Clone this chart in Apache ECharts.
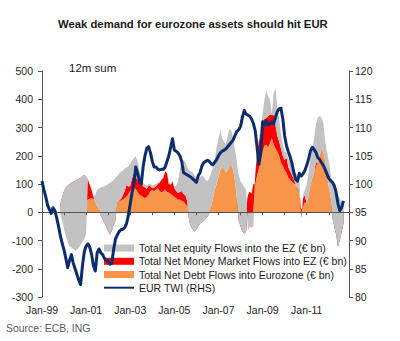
<!DOCTYPE html>
<html>
<head>
<meta charset="utf-8">
<script src="https://cdn.jsdelivr.net/npm/echarts@6/dist/echarts.min.js"></script>
<style>
  html, body { margin: 0; padding: 0; background: #fff; }
  #chart { width: 400px; height: 341px; }
</style>
</head>
<body>
<div id="chart"></div>
<script>
// Monthly categories Jan-99 .. Dec-12
const monthNames = ['Jan','Feb','Mar','Apr','May','Jun','Jul','Aug','Sep','Oct','Nov','Dec'];
const categories = [];
for (let y = 1999; y <= 2012; y++) {
  for (let m = 0; m < 12; m++) {
    categories.push(monthNames[m] + '-' + String(y % 100).padStart(2, '0'));
  }
}

// 12m sums of net flows into the euro zone, EUR bn, first value Nov-99
const flowsStart = 'Nov-99';
const debtFlows = [
  10, 25, 30, 30, 30, 30, 30, 30, 30, 30,
  30, 35, 35, 40, 40, 45, 48, 50, 48, 35,
  22, 10, 5, 5, 5, 5, 5, 5, 5, 5,
  5, 38, 40, 42, 45, 50, 56, 65, 75, 85,
  85, 82, 72, 62, 58, 55, 50, 55, 62, 75,
  79, 75, 80, 85, 75, 70, 75, 80, 72, 70,
  65, 60, 55, 50, 44, 45, 40, 38, 30, 20,
  5, 5, 5, 5, 5, 5, 5, 5, 5, 5,
  5, 5, 20, 50, 80, 100, 125, 150, 160, 155,
  140, 150, 165, 170, 150, 110, 50, 5, 5, 5,
  5, 5, 60, 73, 65, 100, 97, 130, 156, 185,
  215, 235, 239, 230, 245, 263, 240, 227, 215, 200,
  175, 165, 150, 140, 122, 115, 108, 102, 97, 80,
  68, 10, 20, 35, 30, 60, 97, 120, 140, 160,
  175, 200, 225, 215, 185, 133, 90, 55, 5, 5,
  5, 5, 5, 5, 5
];
const moneyMarketFlows = [
  20, 30, 45, 58, 65, 70, 75, 78, 82, 85,
  88, 87, 93, 92, 85, 70, 49, 28, 7, 0,
  0, 0, -17, -30, -43, -57, -73, -85, -70, -50,
  -33, 0, 2, 6, 15, 25, 41, 25, 20, 35,
  55, 43, 43, 46, 42, 37, 38, 27, 33, 17,
  6, 13, 12, 15, 30, 45, 47, 64, 68, 30,
  32, 49, 30, 25, 24, 27, 35, 27, 30, 20,
  -35, -55, -65, -73, -65, -55, -45, -40, -35, -30,
  -20, -10, 0, 0, 0, 0, 0, 0, 0, 0,
  0, 0, 0, 0, 0, 0, 0, -35, -55, -73,
  -80, -75, -60, -73, -65, -100, 36, 85, 94, 100,
  107, 95, 95, 110, 100, 82, 105, 83, 55, 51,
  50, 35, 35, 55, 38, 30, 25, 13, 0, 5,
  2, -30, 30, 25, 0, 0, 0, 0, 0, 15,
  0, 0, 0, 0, 0, 0, 0, 0, -25, -55,
  -85, -127, -105, -75, -45
];
const equityFlows = [
  -40, -85, -135, -173, -200, -220, -230, -238, -249, -247,
  -243, -237, -233, -227, -200, 0, 0, 0, 0, 27,
  58, 75, 100, 115, 130, 148, 168, 184, 173, 160,
  150, 90, 96, 96, 88, 80, 61, 72, 77, 62,
  52, 73, 65, 37, 20, 13, 10, 13, 5, 8,
  10, 10, 8, 5, 3, 3, 3, 2, 2, 5,
  3, 3, 5, 20, 42, 78, 105, 120, 115, 120,
  180, 195, 200, 198, 185, 170, 165, 165, 155, 140,
  125, 125, 120, 110, 110, 130, 135, 140, 100, 95,
  100, 120, 130, 120, 110, 110, 130, 160, 160, 168,
  165, 150, -65, -50, -55, -50, 7, 15, 10, 15,
  28, 70, 96, 70, 55, 5, 75, 130, 100, 79,
  55, 40, 30, 15, 30, 30, 27, 35, 43, 45,
  50, 0, 10, 20, 67, 80, 95, 100, 120, 135,
  160, 140, 110, 101, 70, 82, 90, 85, 120, 135,
  150, 184, 150, 110, 75
];

// EUR trade-weighted index, monthly from Jan-99
const eurTwi = [
  100.5, 99, 97.8, 96.3, 95.5, 94.8, 95.8, 95.3, 94, 92.5,
  90.8, 89.5, 88.3, 86.8, 85.2, 86.5, 87.5, 86, 85, 84,
  83, 82.2, 85.5, 88, 89, 89.4, 88.8, 87.5, 85.5, 84.6,
  87.8, 88.5, 87.8, 87.5, 86.8, 86.5, 86.3, 85.8, 86, 88.5,
  90.3, 91, 91.6, 91.9, 92, 92.3, 93, 94.5, 96.5, 98.5,
  100, 103, 102, 100.5, 100, 103, 105, 106.3, 106.6, 105.5,
  104, 103, 103, 102.6, 102.5, 102.6, 102.6, 103, 104, 105,
  106.5, 108, 106, 105.8, 105.5, 105, 104, 102, 101.8, 101.6,
  101.4, 101.2, 100.9, 100.6, 100.3, 101.5, 102, 103.2, 103.8, 104,
  104.2, 104, 103.6, 103.4, 103.9, 104.3, 105, 105.5, 105.8, 106,
  106.2, 106.6, 107, 107.4, 107.8, 108.6, 109.3, 109.6, 110.2, 111.8,
  113, 112.4, 112.2, 112, 111.5, 110.7, 109.4, 106.5, 103.5, 105.5,
  111, 110.4, 111.2, 110.5, 110.6, 111, 110.6, 111.8, 112.8, 113.3,
  113.4, 111.5, 108.5, 106.8, 105.7, 104.8, 103.6, 102, 100.8, 100.5,
  101.9, 101.4, 101.8, 102.4, 103.3, 104.4, 105.8, 106.5, 106.1, 105.6,
  104.7, 104.4, 103.8, 103.3, 102.6, 101.8, 101, 100.6, 100.3, 99.7,
  98.5, 96.5, 95.3, 95.8, 97
];

const leftAxisTicks = { min: -300, max: 500, interval: 100 };
const rightAxisTicks = { min: 80, max: 120, interval: 5 };

const names = {
  equity: 'Total Net equity Flows into the EZ (\u20ac bn)',
  mm: 'Total Net Money Market Flows into EZ (\u20ac bn)',
  debt: 'Total Net Debt Flows into Eurozone (\u20ac bn)',
  twi: 'EUR TWI (RHS)'
};

const colors = { gray: '#c2c2c2', red: '#ff0000', orange: '#f7964a', navy: '#0b2d6d', axis: '#555555', text: '#262626' };
const FONT = '"Liberation Sans", Arial, sans-serif';

// place a series that starts at a given month onto the full category range
function alignToCategories(values, startLabel) {
  const i0 = categories.indexOf(startLabel);
  return categories.map((_, i) => (i >= i0 && i - i0 < values.length) ? values[i - i0] : null);
}

// stacked areas: each band is drawn between the running totals, later bands on top
function areaSeries(name, values, color) {
  return {
    name: name,
    type: 'line',
    stack: 'flows',
    stackStrategy: 'all',
    data: alignToCategories(values, flowsStart),
    symbol: 'none',
    showSymbol: false,
    lineStyle: { width: 0, color: color },
    itemStyle: { color: color },
    areaStyle: { color: color, opacity: 1 },
    silent: true,
    z: 2
  };
}

const chart = echarts.init(document.getElementById('chart'), null, { renderer: 'svg' });

chart.setOption({
  animation: false,
  backgroundColor: '#ffffff',
  grid: { left: 42, top: 71, width: 307, height: 226, containLabel: false },
  legend: {
    orient: 'vertical',
    left: 98,
    top: 236.5,
    padding: 5,
    itemWidth: 30,
    itemHeight: 7,
    itemGap: 0,
    selectedMode: false,
    textStyle: { fontFamily: FONT, fontSize: 10.5, color: '#1a1a1a', lineHeight: 13.2 },
    data: [
      { name: names.equity, icon: 'rect' },
      { name: names.mm, icon: 'rect' },
      { name: names.debt, icon: 'rect' },
      { name: names.twi, itemStyle: { opacity: 0 } }
    ]
  },
  xAxis: [
    {
      type: 'category',
      data: categories,
      boundaryGap: false,
      position: 'bottom',
      axisLine: { show: false },
      axisTick: { show: false },
      axisLabel: {
        interval: (i) => i % 24 === 0,
        fontFamily: FONT, fontSize: 10.5, color: colors.text, margin: 7
      },
      splitLine: { show: false }
    },
    {
      type: 'category',
      data: categories,
      boundaryGap: false,
      position: 'top',
      axisLine: { show: true, onZero: true, onZeroAxisIndex: 0, lineStyle: { color: colors.axis, width: 1 } },
      axisTick: { show: true, inside: true, length: 3, interval: (i) => i % 12 === 0, lineStyle: { color: colors.axis } },
      axisLabel: { show: false },
      splitLine: { show: false },
      z: 4
    }
  ],
  yAxis: [
    {
      type: 'value',
      position: 'left',
      min: leftAxisTicks.min, max: leftAxisTicks.max, interval: leftAxisTicks.interval,
      axisLine: { show: true, lineStyle: { color: colors.axis, width: 1 } },
      axisTick: { show: true, length: 4, lineStyle: { color: colors.axis } },
      axisLabel: { fontFamily: FONT, fontSize: 10.5, color: colors.text, margin: 9 },
      splitLine: { show: false }
    },
    {
      type: 'value',
      position: 'right',
      min: rightAxisTicks.min, max: rightAxisTicks.max, interval: rightAxisTicks.interval,
      axisLine: { show: true, lineStyle: { color: colors.axis, width: 1 } },
      axisTick: { show: true, length: 4, lineStyle: { color: colors.axis } },
      axisLabel: { fontFamily: FONT, fontSize: 10.5, color: colors.text, margin: 6 },
      splitLine: { show: false }
    }
  ],
  graphic: [
    { type: 'text', x: 58, y: 24, style: { text: 'Weak demand for eurozone assets should hit EUR', font: 'bold 11.3px ' + FONT, fill: '#1a1a1a', verticalAlign: 'middle' } },
    { type: 'text', x: 69, y: 67.5, style: { text: '12m sum', font: '11.5px ' + FONT, fill: '#1a1a1a', verticalAlign: 'middle' } },
    { type: 'text', x: 6, y: 328.5, style: { text: 'Source: ECB, ING', font: '10.4px ' + FONT, fill: '#5a5a6a', verticalAlign: 'middle' } }
  ],
  series: [
    areaSeries(names.debt, debtFlows, colors.orange),
    areaSeries(names.mm, moneyMarketFlows, colors.red),
    areaSeries(names.equity, equityFlows, colors.gray),
    {
      name: names.twi,
      type: 'line',
      yAxisIndex: 1,
      data: eurTwi,
      symbol: 'none',
      showSymbol: false,
      lineStyle: { color: colors.navy, width: 3, join: 'round' },
      itemStyle: { color: colors.navy },
      silent: true,
      z: 5
    }
  ]
});
</script>
</body>
</html>
